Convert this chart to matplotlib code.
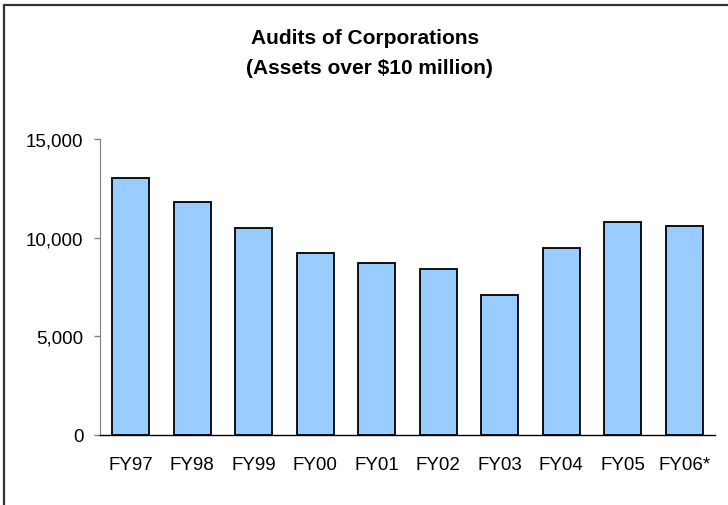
import matplotlib.pyplot as plt
from matplotlib.patches import Rectangle
from matplotlib.ticker import FuncFormatter

plt.rcParams['font.family'] = ['Liberation Sans', 'DejaVu Sans']

years = ['FY97', 'FY98', 'FY99', 'FY00', 'FY01', 'FY02', 'FY03', 'FY04', 'FY05', 'FY06*']
audits = [13000, 11800, 10500, 9200, 8700, 8400, 7100, 9500, 10800, 10600]
yticks = [0, 5000, 10000, 15000]

fig = plt.figure(figsize=(7.28, 5.06), dpi=100)
ax = fig.add_axes([100 / 728, 1 - 436 / 506, 615 / 728, 296 / 506])

x = range(len(years))
ax.bar(x, audits, width=0.6, color='#99CCFF', edgecolor='black', linewidth=1.3, zorder=3)

ax.set_xlim(-0.5, len(years) - 0.5)
ax.set_ylim(0, 15000)
ax.set_yticks(yticks)
ax.yaxis.set_major_formatter(FuncFormatter(lambda v, p: '{:,.0f}'.format(v)))
ax.set_xticks(list(x))
ax.set_xticklabels(years)

ax.tick_params(axis='y', length=4, width=1, color='#808080', labelsize=13.5, pad=8)
ax.tick_params(axis='x', length=0, labelsize=13.5, pad=15)

for s in ['top', 'right']:
    ax.spines[s].set_visible(False)
ax.spines['left'].set_color('#808080')
ax.spines['bottom'].set_color('black')
ax.spines['bottom'].set_linewidth(1.0)

# title block
fig.text(365 / 728, 1 - 38 / 506, 'Audits of Corporations', ha='center', va='center',
         fontsize=15, fontweight='bold')
fig.text(369 / 728, 1 - 69 / 506, '(Assets over $10 million)', ha='center', va='center',
         fontsize=15, fontweight='bold')

# outer frame (right/bottom edges fall outside the picture)
fig.patches.append(Rectangle((4 / 728, -0.05), 1.1, 1 - 6 / 506 + 0.05,
                             transform=fig.transFigure, fill=False,
                             edgecolor='#333333', linewidth=1.6))

fig.savefig('out.png', dpi=100)
